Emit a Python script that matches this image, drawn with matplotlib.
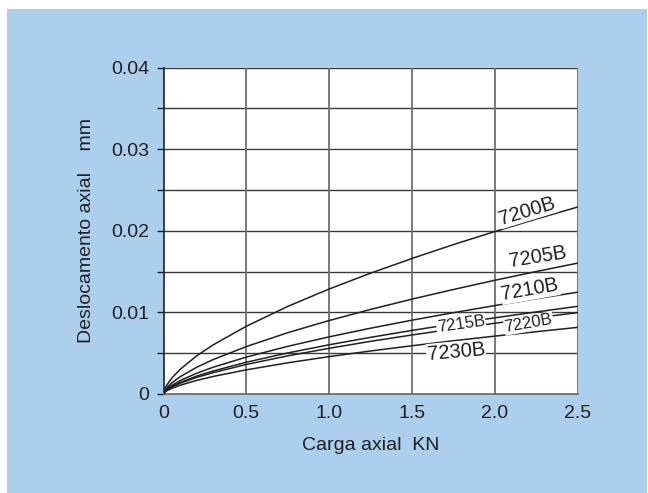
import matplotlib
matplotlib.use("Agg")
import matplotlib.pyplot as plt
from matplotlib.patches import Rectangle
from matplotlib.ticker import MultipleLocator

plt.rcParams['font.family'] = ['Liberation Sans', 'DejaVu Sans']

# ---- data ----
load = [0, 0.01, 0.02, 0.05, 0.1, 0.2, 0.3, 0.5, 0.75, 1.0, 1.25, 1.5, 1.75, 2.0, 2.25, 2.5]
d_7200B = [0, 0.00071, 0.00109, 0.00195, 0.00301, 0.00467, 0.00602, 0.00830, 0.01073, 0.01286,
           0.01480, 0.01660, 0.01830, 0.01990, 0.02143, 0.02290]
d_7205B = [0, 0.00050, 0.00077, 0.00136, 0.00211, 0.00327, 0.00422, 0.00581, 0.00751, 0.00900,
           0.01036, 0.01162, 0.01280, 0.01393, 0.01500, 0.01603]
d_7210B = [0, 0.00039, 0.00060, 0.00106, 0.00164, 0.00254, 0.00328, 0.00452, 0.00584, 0.00700,
           0.00806, 0.00904, 0.00996, 0.01083, 0.01167, 0.01247]
d_7215B = [0, 0.00033, 0.00051, 0.00091, 0.00141, 0.00219, 0.00282, 0.00389, 0.00503, 0.00603,
           0.00694, 0.00779, 0.00858, 0.00933, 0.01005, 0.01074]
d_7220B = [0, 0.00031, 0.00048, 0.00085, 0.00131, 0.00203, 0.00262, 0.00362, 0.00467, 0.00560,
           0.00645, 0.00723, 0.00797, 0.00867, 0.00933, 0.00997]
d_7230B = [0, 0.00025, 0.00039, 0.00069, 0.00107, 0.00166, 0.00215, 0.00296, 0.00382, 0.00458,
           0.00527, 0.00591, 0.00652, 0.00709, 0.00763, 0.00816]
series_names = ['7200B', '7205B', '7210B', '7215B', '7220B', '7230B']
series = [d_7200B, d_7205B, d_7210B, d_7215B, d_7220B, d_7230B]

x_ticks = [0, 0.5, 1.0, 1.5, 2.0, 2.5]
x_ticklabels = ['0', '0.5', '1.0', '1.5', '2.0', '2.5']
y_ticks = [0, 0.01, 0.02, 0.03, 0.04]
y_ticklabels = ['0', '0.01', '0.02', '0.03', '0.04']

# label placement (data coords), angle, font size
label_pos = {'7200B': (2.195, 0.02242, 17, 14.5),
             '7205B': (2.262, 0.01678, 9, 14.5),
             '7210B': (2.213, 0.01274, 10, 14.5),
             '7215B': (1.796, 0.00855, 8, 12),
             '7220B': (2.205, 0.00865, 10, 12),
             '7230B': (1.766, 0.00520, 5, 14.5)}

TXT = '#231f20'
BLUE = '#abcfec'

fig = plt.figure(figsize=(6.48, 4.93), dpi=100)
fig.patch.set_facecolor('white')
fig.patches.append(Rectangle((7/648, 0), 640/648, (493-9)/493, transform=fig.transFigure,
                             facecolor=BLUE, edgecolor='none', zorder=-10))

ax = fig.add_axes([163.5/648, (493-394)/493, 414/648, 326.5/493])
ax.set_facecolor('white')
ax.set_xlim(0, 2.5)
ax.set_ylim(0, 0.04)

# grid
for yv in [0.005*i for i in range(1, 9)]:
    ax.axhline(yv, color='#3a3a3a', lw=1.0, zorder=1)
for xv in [0.5, 1.0, 1.5, 2.0, 2.5]:
    ax.axvline(xv, color='#6e6e6e', lw=1.3, zorder=1)

for name, vals in zip(series_names, series):
    ax.plot(load, vals, color=TXT, lw=1.1, zorder=3)
    lx, ly, rot, fs = label_pos[name]
    ax.text(lx, ly, name, rotation=rot, rotation_mode='anchor', ha='center', va='center',
            fontsize=fs, color=TXT, zorder=4,
            bbox=dict(facecolor='white', edgecolor='none', pad=0.5))

for s in ['top', 'right']:
    ax.spines[s].set_visible(False)
ax.spines['left'].set_color(TXT)
ax.spines['bottom'].set_color('#6e6e6e')
ax.spines['left'].set_linewidth(1.2)
ax.spines['bottom'].set_linewidth(1.3)

ax.set_xticks(x_ticks)
ax.set_xticklabels(x_ticklabels)
ax.set_yticks(y_ticks)
ax.set_yticklabels(y_ticklabels)
ax.yaxis.set_minor_locator(MultipleLocator(0.005))
ax.tick_params(axis='x', length=0, pad=8, labelsize=14, labelcolor=TXT)
ax.tick_params(axis='y', which='both', length=5, width=1.0, color=TXT, pad=5,
               labelsize=14, labelcolor=TXT, direction='out')

ax.set_xlabel('Carga axial  KN', fontsize=14, color=TXT, labelpad=11)
ax.set_ylabel('Deslocamento axial    mm', fontsize=14, color=TXT, labelpad=12)

fig.savefig('out.png', dpi=100)
